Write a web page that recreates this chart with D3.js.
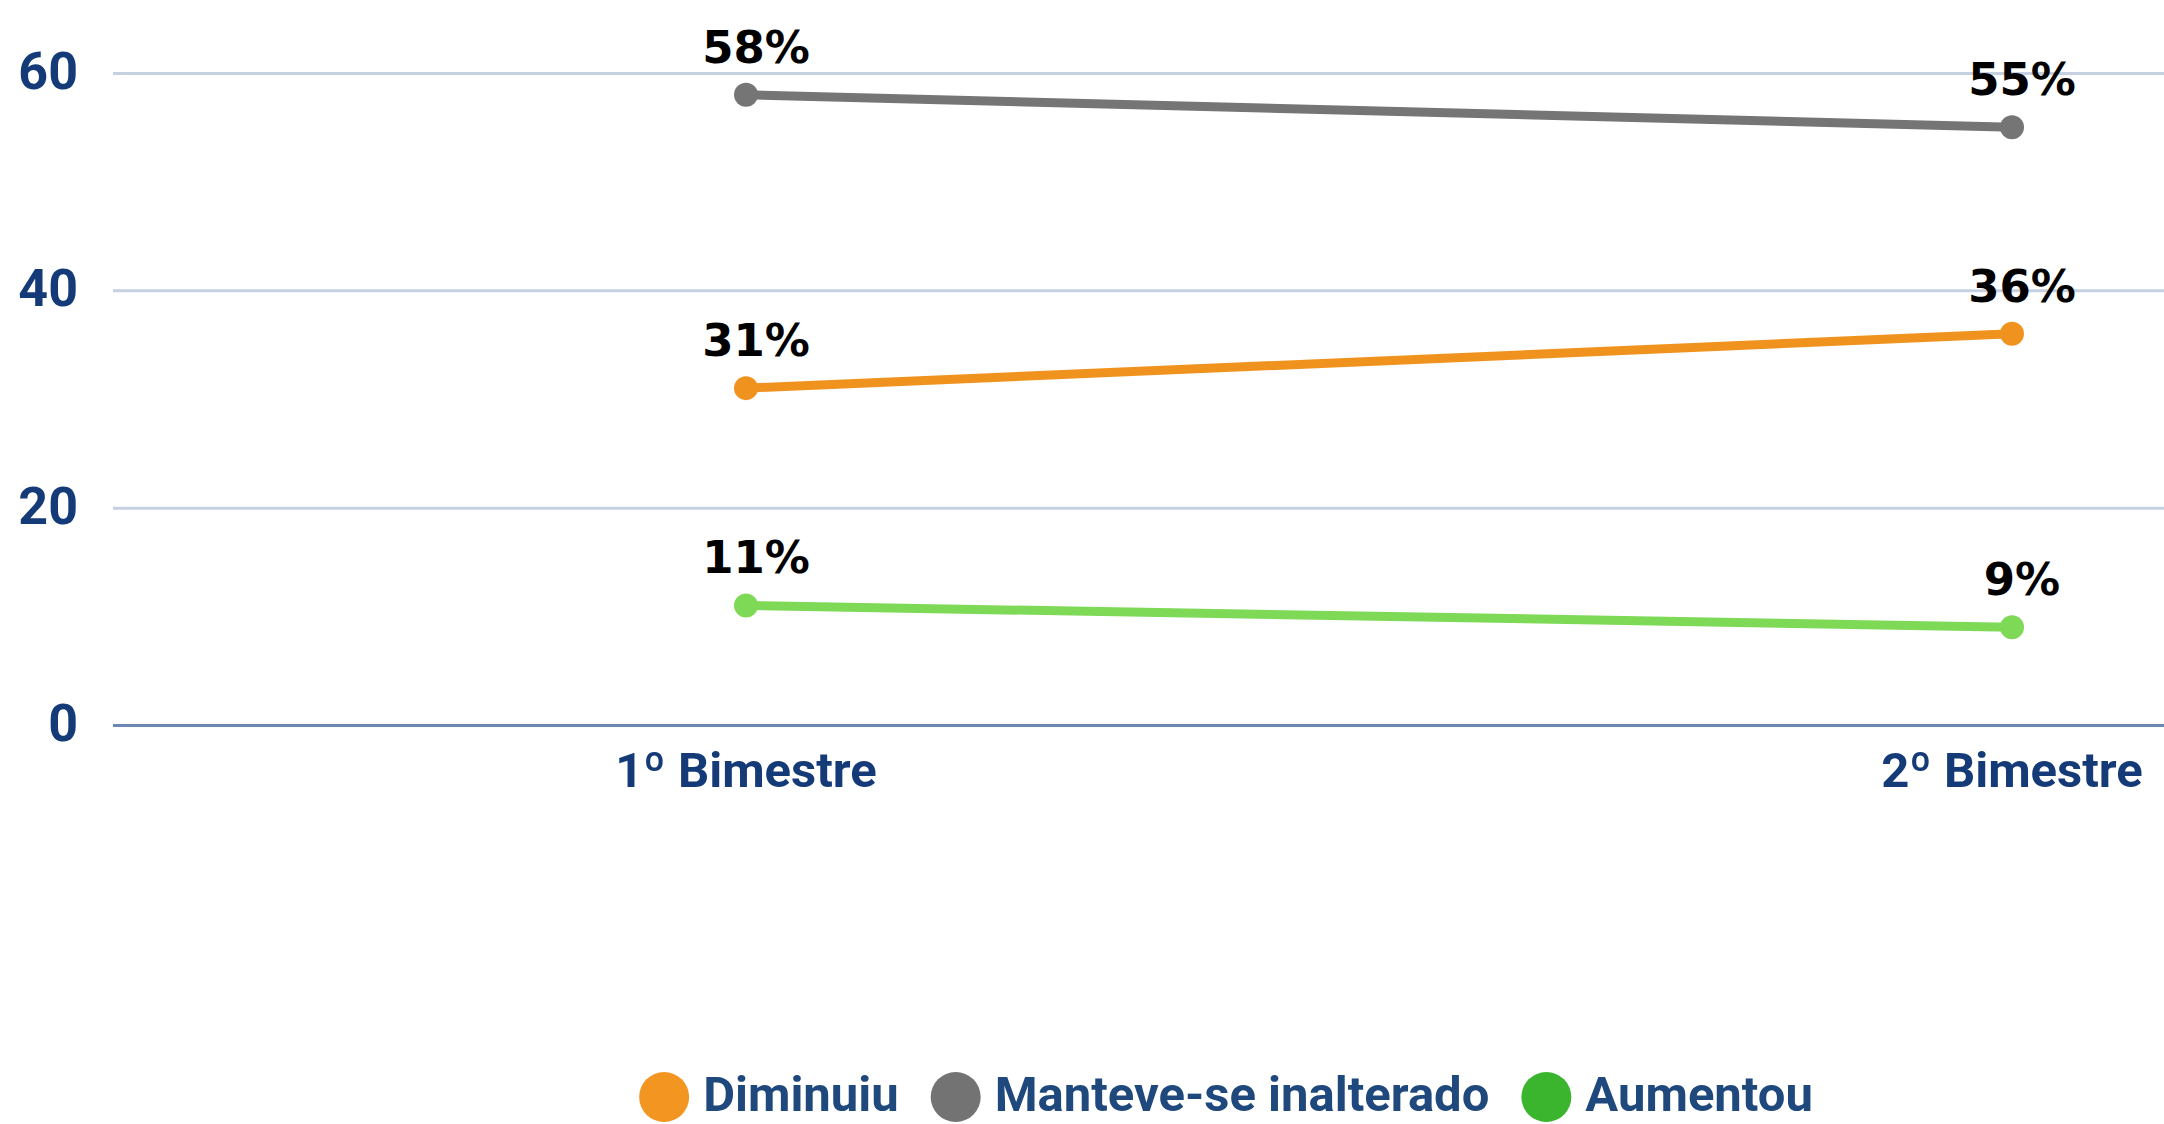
<!DOCTYPE html>
<html>
<head>
<meta charset="utf-8">
<script src="https://cdn.jsdelivr.net/npm/d3@7"></script>
<style>
  body { margin: 0; background: #fff; }
  svg { display: block; }
</style>
</head>
<body>
<script>
// data
const periods = ["1º Bimestre", "2º Bimestre"];
const seriesNames = ["Diminuiu", "Manteve-se inalterado", "Aumentou"];
const diminuiu = [31, 36];
const manteve = [58, 55];
const aumentou = [11, 9];
const yTicks = [0, 20, 40, 60];

const lineColors = ["#F0931E", "#757575", "#7ED957"];
const legendColors = ["#F39621", "#737373", "#3BB52E"];

const width = 2164, height = 1124;
const plotLeft = 113, plotRight = 2645; // plot runs past the right edge, as in the source
const yTop = 73, yBottom = 725;
const axisFont = "Roboto, 'Liberation Sans', sans-serif";

const svg = d3.select("body").append("svg")
  .attr("width", width).attr("height", height);

const x = d3.scaleBand().domain(periods).range([plotLeft, plotRight]);
const y = d3.scaleLinear().domain([0, 60]).range([yBottom, yTop]);
const cx = d => x(d) + x.bandwidth() / 2;

// grid + y labels
const yAxis = svg.append("g").attr("transform", `translate(${plotLeft},0)`)
  .call(d3.axisLeft(y).tickValues(yTicks).tickSize(-(plotRight - plotLeft)).tickPadding(35));
yAxis.select(".domain").remove();
yAxis.selectAll(".tick line")
  .attr("stroke", d => d === 0 ? "#6A88B0" : "#C5D0E0")
  .attr("stroke-width", 3);
yAxis.selectAll(".tick text")
  .attr("fill", "#143B78")
  .style("font-family", axisFont).style("font-weight", 700).style("font-size", "52px")
  .attr("dy", "0.3em");

// x labels
const xAxis = svg.append("g").attr("transform", `translate(0,${yBottom})`)
  .call(d3.axisBottom(x).tickSize(0));
xAxis.select(".domain").remove();
xAxis.selectAll(".tick text")
  .attr("y", 62).attr("dy", 0)
  .attr("fill", "#143B78")
  .style("font-family", axisFont).style("font-weight", 700).style("font-size", "49px");

// series
const series = [diminuiu, manteve, aumentou].map((vals, i) => ({
  name: seriesNames[i],
  color: lineColors[i],
  values: vals.map((v, j) => ({ p: periods[j], v }))
}));

const line = d3.line().x(d => cx(d.p)).y(d => y(d.v));

const sg = svg.selectAll("g.series").data(series).join("g").attr("class", "series");
sg.append("path")
  .attr("d", d => line(d.values))
  .attr("fill", "none")
  .attr("stroke", d => d.color)
  .attr("stroke-width", 9);
sg.selectAll("circle").data(d => d.values.map(v => ({ ...v, color: d.color })))
  .join("circle")
  .attr("cx", d => cx(d.p)).attr("cy", d => y(d.v)).attr("r", 12)
  .attr("fill", d => d.color);
sg.selectAll("text").data(d => d.values)
  .join("text")
  .attr("x", d => cx(d.p) + 10).attr("y", d => y(d.v) - 32)
  .attr("text-anchor", "middle")
  .style("font-family", "'DejaVu Sans', sans-serif").style("font-weight", 700).style("font-size", "45px")
  .attr("fill", "#000")
  .text(d => d.v + "%");

// legend
const legend = svg.append("g");
let lx = 0;
seriesNames.forEach((name, i) => {
  const item = legend.append("g");
  item.append("circle").attr("cx", lx + 25).attr("cy", 1097).attr("r", 25).attr("fill", legendColors[i]);
  const t = item.append("text").attr("x", lx + 64).attr("y", 1111)
    .attr("fill", "#1F497D")
    .style("font-family", axisFont).style("font-weight", 700).style("font-size", "49px")
    .text(name);
  lx += 64 + t.node().getComputedTextLength() + 32;
});
const legendW = lx - 32;
legend.attr("transform", `translate(${1226 - legendW / 2},0)`);
</script>
</body>
</html>
